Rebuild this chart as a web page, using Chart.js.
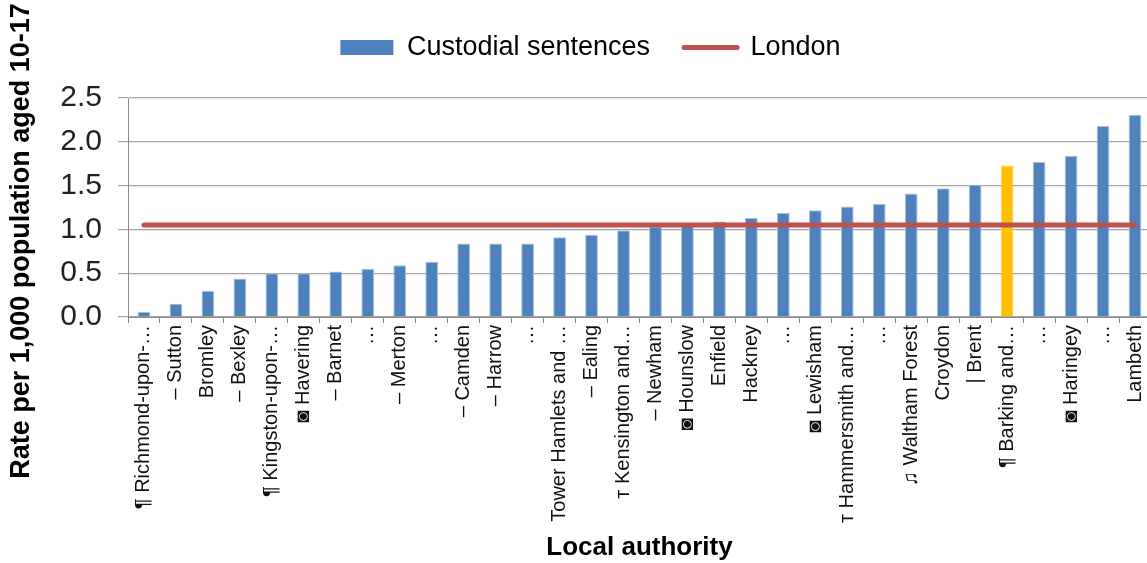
<!DOCTYPE html>
<html>
<head>
<meta charset="utf-8">
<title>Custodial sentences by local authority</title>
<script src="https://cdn.jsdelivr.net/npm/chart.js@4.4.1/dist/chart.umd.min.js"></script>
<style>
  html, body { margin: 0; padding: 0; background: #fff; overflow: hidden; }
  #wrap { width: 1161px; height: 563px; }
</style>
</head>
<body>
<div id="wrap"><canvas id="custodyChart" width="1161" height="563"></canvas></div>
<script>
const authorities = [
  "¶ Richmond-upon-…", "– Sutton", "Bromley", "– Bexley", "¶ Kingston-upon-…",
  "◙ Havering", "– Barnet", "…", "– Merton", "…", "– Camden", "– Harrow", "…",
  "Tower Hamlets and …", "– Ealing", "т Kensington and…", "– Newham", "◙ Hounslow",
  "Enfield", "Hackney", "…", "◙ Lewisham", "т Hammersmith and…", "…",
  "♫ Waltham Forest", "Croydon", "| Brent", "¶ Barking and…", "…", "◙ Haringey",
  "…", "Lambeth"
];

const custodialRates = [
  0.06, 0.15, 0.30, 0.44, 0.50, 0.50, 0.52, 0.55, 0.59, 0.63, 0.84, 0.84, 0.84,
  0.91, 0.94, 0.99, 1.03, 1.05, 1.09, 1.13, 1.19, 1.22, 1.26, 1.29, 1.41, 1.47,
  1.51, 1.73, 1.77, 1.84, 2.18, 2.31
];

const londonRate = 1.05;
const highlighted = "¶ Barking and…";
const yTicks = [0, 0.5, 1, 1.5, 2, 2.5];

const seriesNames = ["Custodial sentences", "London"];
const xTitle = "Local authority";
const yTitle = "Rate per 1,000 population aged 10-17";

const FONT = "'Liberation Sans', Arial, sans-serif";
const BLUE = "#4F81BD";
const YELLOW = "#FFC000";
const RED = "#C0504D";
const GRID = "#A3A3A3";

Chart.defaults.font.family = FONT;
Chart.defaults.color = "#111";

// y title is drawn by hand so it can sit lower than the scale centre
const yTitlePlugin = {
  id: "yTitle",
  afterDraw(chart) {
    const ctx = chart.ctx;
    ctx.save();
    ctx.translate(22, 241);
    ctx.rotate(-Math.PI / 2);
    ctx.font = "bold 27px " + FONT;
    ctx.fillStyle = "#000";
    ctx.textAlign = "center";
    ctx.textBaseline = "middle";
    ctx.fillText(yTitle, 0, 0);
    ctx.restore();
  },
};

// extra room under the legend, and nudge it a little to the right
const legendTweak = {
  id: "legendTweak",
  beforeInit(chart) {
    const legend = chart.legend;
    if (!legend) return;
    const fit = legend.fit;
    legend.fit = function () {
      fit.call(this);
      this.height += 27;
    };
    const draw = legend.draw;
    legend.draw = function () {
      chart.ctx.save();
      chart.ctx.translate(10, 0);
      draw.apply(this, arguments);
      chart.ctx.restore();
    };
  },
};

const ctx = document.getElementById("custodyChart").getContext("2d");
new Chart(ctx, {
  type: "bar",
  data: {
    labels: authorities,
    datasets: [
      {
        label: seriesNames[0],
        data: custodialRates,
        backgroundColor: authorities.map((a) => (a === highlighted ? YELLOW : BLUE)),
        borderColor: authorities.map((a) => (a === highlighted ? "#FFD34D" : "#A9C1DF")),
        borderWidth: 1,
        barPercentage: 0.4,
        categoryPercentage: 1,
        order: 1,
      },
      {
        type: "line",
        label: seriesNames[1],
        data: authorities.map(() => londonRate),
        borderColor: RED,
        backgroundColor: RED,
        borderWidth: 5,
        borderCapStyle: "round",
        pointRadius: 0,
        fill: false,
        order: 0,
      },
    ],
  },
  options: {
    responsive: false,
    animation: false,
    layout: { padding: 0 },
    plugins: {
      tooltip: { enabled: false },
      legend: {
        display: true,
        position: "top",
        labels: {
          usePointStyle: true,
          pointStyleWidth: 53,
          boxHeight: 15,
          padding: 34,
          color: "#000",
          font: { size: 27 },
          generateLabels(chart) {
            return chart.data.datasets.map((ds, i) => ({
              text: ds.label,
              fillStyle: i === 0 ? BLUE : RED,
              strokeStyle: i === 0 ? BLUE : RED,
              lineWidth: i === 0 ? 0 : 5,
              lineCap: "round",
              pointStyle: i === 0 ? "rect" : "line",
              hidden: false,
              datasetIndex: i,
              fontColor: "#000",
            }));
          },
        },
      },
    },
    scales: {
      x: {
        afterFit(scale) {
          scale.height = 246;
        },
        grid: {
          display: true,
          drawOnChartArea: false,
          drawTicks: true,
          tickLength: 6,
          color: "#8C8C8C",
        },
        border: { display: true, color: "#8C8C8C" },
        ticks: {
          autoSkip: false,
          maxRotation: 90,
          minRotation: 90,
          padding: 2,
          color: "#111",
          font: { size: 20 },
        },
        title: {
          display: true,
          text: xTitle,
          color: "#000",
          padding: { top: 0, bottom: 0 },
          font: { size: 26, weight: "bold" },
        },
      },
      y: {
        min: yTicks[0],
        max: yTicks[yTicks.length - 1],
        afterFit(scale) {
          scale.width = 128;
        },
        afterBuildTicks(scale) {
          scale.ticks = yTicks.map((v) => ({ value: v }));
        },
        grid: {
          color: GRID,
          lineWidth: 1.2,
          tickLength: 10,
        },
        border: { display: true, color: "#8C8C8C" },
        ticks: {
          padding: 16,
          color: "#222",
          font: { size: 30 },
          callback: (v) => Number(v).toFixed(1),
        },
      },
    },
  },
  plugins: [yTitlePlugin, legendTweak],
});
</script>
</body>
</html>
